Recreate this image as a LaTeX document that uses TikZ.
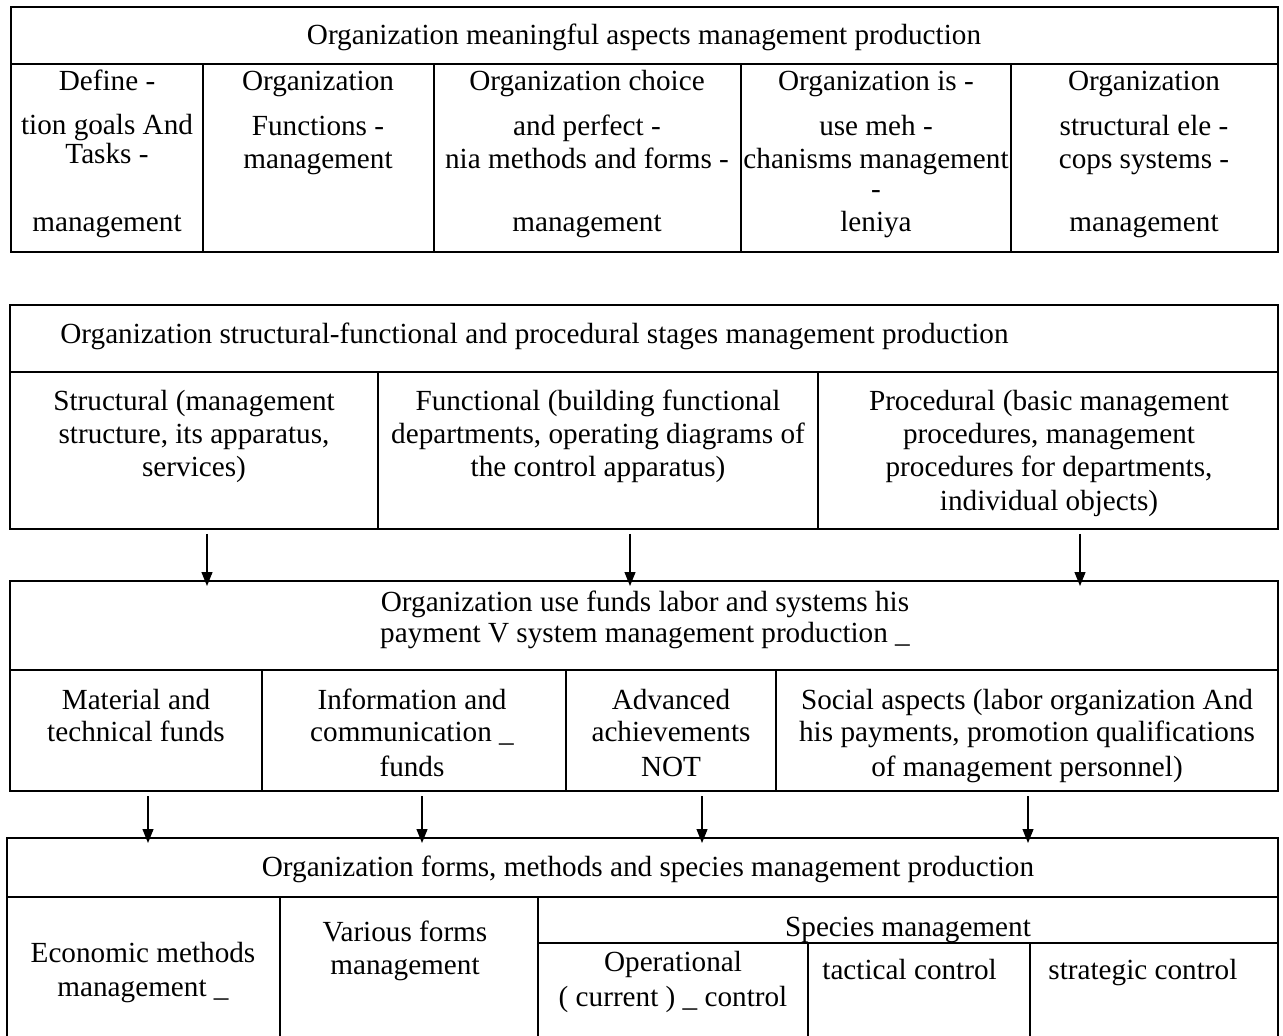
\documentclass[tikz,border=0pt]{standalone}
\usepackage{fontspec}
\setmainfont{Liberation Serif}
\usetikzlibrary{arrows.meta}
\tikzset{
  >=latex,
  % linee delle tabelle
  griglia/.style={line width=1pt, black},
  % righe di testo nelle celle
  riga/.style={inner sep=0pt, anchor=base, font=\fontsize{14.6}{16.5}\selectfont},
  rigasx/.style={riga, anchor=base west},
  % frecce tra i blocchi
  freccia/.style={-{Triangle[length=7pt,width=5.5pt]}, line width=0.6pt}
}

\begin{document}
\begin{tikzpicture}[x=0.5pt, y=-0.5pt]
  \useasboundingbox (0,0) rectangle (1283,1036);
  % blocco 1
  \draw[griglia] (11,7) rectangle (1278,252);
  \draw[griglia] (11,64) -- (1278,64);
  \foreach \xx in {203,434,741,1011} \draw[griglia] (\xx,64) -- (\xx,252);
  \node[riga] (h1) at (644,45) {Organization meaningful aspects management production};
  \foreach \testo/\xx/\yy [count=\i] in {
    Define -/107/91, tion goals And/107/135, Tasks -/107/164, management/107/232,
    Organization/318/91, Functions -/318/136, management/318/169,
    Organization choice/587/91, and perfect -/587/136, nia methods and forms -/587/169, management/587/232,
    Organization is -/876/91, use meh -/876/136, chanisms management/876/169, -/876/199, leniya/876/232,
    Organization/1144/91, structural ele -/1144/136, cops systems -/1144/169, management/1144/232}
    \node[riga] (a-\i) at (\xx,\yy) {\testo};

  % blocco 2
  \draw[griglia] (10,305) rectangle (1278,529);
  \draw[griglia] (10,372) -- (1278,372);
  \foreach \xx in {378,818} \draw[griglia] (\xx,372) -- (\xx,529);
  \node[rigasx] (h2) at (60,344) {Organization structural-functional and procedural stages management production};
  \foreach \testo/\xx/\yy [count=\i] in {
    Structural (management/194/411, {structure, its apparatus,}/194/444, services)/194/477,
    Functional (building functional/598/411, {departments, operating diagrams of}/598/444, the control apparatus)/598/477,
    Procedural (basic management/1049/411, {procedures, management}/1049/444, {procedures for departments,}/1049/477, individual objects)/1049/511}
    \node[riga] (b-\i) at (\xx,\yy) {\testo};

  % blocco 3
  \draw[griglia] (10,581) rectangle (1278,791);
  \draw[griglia] (10,670) -- (1278,670);
  \foreach \xx in {262,566,776} \draw[griglia] (\xx,670) -- (\xx,791);
  \node[riga] (h3a) at (645,611) {Organization use funds labor and systems his};
  \node[riga] (h3b) at (645,642) {payment V system management production \_};
  \foreach \testo/\xx/\yy [count=\i] in {
    Material and/136/709, technical funds/136/741,
    Information and/412/709, communication \_/412/741, funds/412/776,
    Advanced/671/709, achievements/671/741, NOT/671/776,
    Social aspects (labor organization And/1027/709, {his payments, promotion qualifications}/1027/741, of management personnel)/1027/776}
    \node[riga] (c-\i) at (\xx,\yy) {\testo};

  % blocco 4
  \draw[griglia] (7,1036) -- (7,838) -- (1278,838) -- (1278,1036);
  \draw[griglia] (7,897) -- (1278,897);
  \foreach \xx in {280,538} \draw[griglia] (\xx,897) -- (\xx,1036);
  \draw[griglia] (538,943) -- (1278,943);
  \foreach \xx in {808,1030} \draw[griglia] (\xx,943) -- (\xx,1036);
  \node[riga] (h4) at (648,876) {{Organization forms, methods and species management production}};
  \node[riga] (s4) at (908,936) {Species management};
  \foreach \testo/\xx/\yy [count=\i] in {
    Economic methods/143/962, management \_/143/996,
    Various forms/405/941, management/405/974,
    Operational/673/971, ( current ) \_ control/673/1006}
    \node[riga] (d-\i) at (\xx,\yy) {\testo};
  \node[rigasx] (d-7) at (822,979) {tactical control};
  \node[rigasx] (d-8) at (1048,979) {strategic control};

  % frecce
  \foreach \n/\xx in {1/207, 2/630, 3/1080} {
    \coordinate (p\n) at (\xx,534);
    \coordinate (q\n) at (\xx,586);
    \draw[freccia] (p\n) -- (q\n);
  }
  \foreach \n/\xx in {1/148, 2/422, 3/702, 4/1028} {
    \coordinate (u\n) at (\xx,796);
    \coordinate (v\n) at (\xx,843);
    \draw[freccia] (u\n) -- (v\n);
  }
\end{tikzpicture}
\end{document}
